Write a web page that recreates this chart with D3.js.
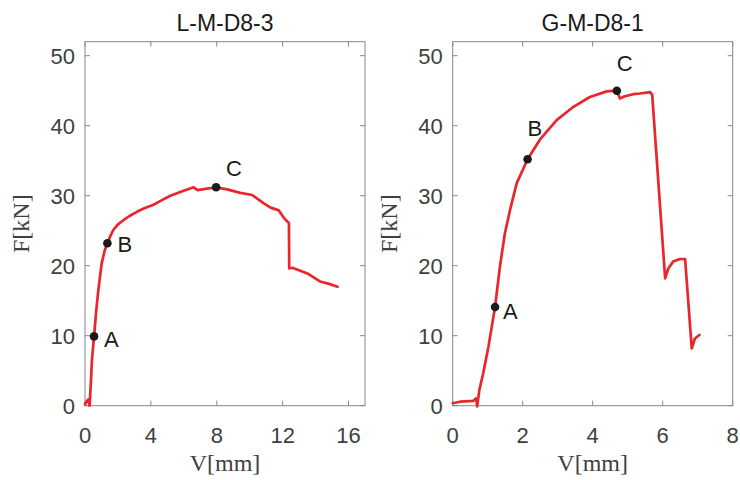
<!DOCTYPE html>
<html>
<head>
<meta charset="utf-8">
<script src="https://cdn.jsdelivr.net/npm/d3@7/dist/d3.min.js"></script>
<style>
  html, body { margin: 0; padding: 0; background: #fff; }
  svg { display: block; }
</style>
</head>
<body>
<svg id="chart" width="740" height="480"></svg>
<script>
// ---- Data ----
const titles = ["L-M-D8-3", "G-M-D8-1"];
const xTicksLeft = [0, 4, 8, 12, 16];
const xTicksRight = [0, 2, 4, 6, 8];
const yTicks = [0, 10, 20, 30, 40, 50];

// Left specimen: V [mm], F [kN]
const leftV = [0, 0.1, 0.2, 0.28, 0.35, 0.42, 0.55, 0.68, 0.81, 1.01, 1.2, 1.36, 1.55, 1.72, 2.0, 2.33, 2.7, 3.15, 3.6, 4.16, 4.7, 5.18, 5.99, 6.6, 6.84, 7.41, 7.96, 8.63, 9.43, 10.15, 10.86, 11.27, 11.77, 12.08, 12.38, 12.4, 12.6, 13.5, 14.31, 14.82, 15.33];
const leftF = [0.2, 0.6, 0.9, 0.0, 3.0, 6.5, 9.9, 13.5, 16.5, 20.3, 22.2, 23.2, 24.3, 25.1, 25.9, 26.5, 27.1, 27.7, 28.2, 28.7, 29.4, 30.0, 30.7, 31.2, 30.8, 31.0, 31.2, 30.9, 30.4, 30.1, 28.9, 28.3, 27.9, 26.8, 26.1, 19.6, 19.7, 18.9, 17.7, 17.4, 17.0];

// Right specimen
const rightV = [0, 0.21, 0.59, 0.67, 0.70, 0.76, 0.87, 1.02, 1.21, 1.35, 1.49, 1.64, 1.83, 2.14, 2.49, 2.97, 3.45, 3.92, 4.4, 4.69, 4.78, 4.92, 5.16, 5.35, 5.64, 5.70, 6.07, 6.16, 6.30, 6.49, 6.64, 6.83, 6.92, 7.05];
const rightF = [0.35, 0.57, 0.7, 1.05, -0.1, 2.2, 4.6, 8.4, 14.1, 19.9, 24.6, 28.0, 31.8, 35.2, 38.0, 40.8, 42.7, 44.1, 44.9, 45.0, 43.9, 44.2, 44.5, 44.6, 44.8, 44.4, 18.2, 19.6, 20.6, 20.96, 20.96, 8.2, 9.6, 10.1];

// Marked points
const leftPts = [{name: "A", v: 0.55, f: 9.9}, {name: "B", v: 1.36, f: 23.2}, {name: "C", v: 7.96, f: 31.2}];
const rightPts = [{name: "A", v: 1.21, f: 14.1}, {name: "B", v: 2.14, f: 35.2}, {name: "C", v: 4.69, f: 45.0}];

// ---- Drawing ----
const svg = d3.select("#chart");
const axisColor = "#888888";
const textColor = "#404040";
const lineColor = "#e8262b";
const sans = "Liberation Sans, Arial, sans-serif";
const serif = "Liberation Serif, Times New Roman, serif";

const panels = [
  {title: titles[0], v: leftV, f: leftF, pts: leftPts, xMax: 17, xTicks: xTicksLeft, x0: 85, x1: 365,
   labelOff: {A: [10, 11], B: [10, 9], C: [10, -11]}},
  {title: titles[1], v: rightV, f: rightF, pts: rightPts, xMax: 8, xTicks: xTicksRight, x0: 452.7, x1: 732.7,
   labelOff: {A: [8, 12], B: [0, -23], C: [0, -20]}}
];

const yTop = 41.7, yBot = 405.7;

panels.forEach(p => {
  const x = d3.scaleLinear().domain([0, p.xMax]).range([p.x0, p.x1]);
  const y = d3.scaleLinear().domain([0, 52]).range([yBot, yTop]);
  const g = svg.append("g");

  const tl = 5;
  p.xTicks.forEach(t => {
    g.append("line").attr("x1", x(t)).attr("x2", x(t)).attr("y1", yBot).attr("y2", yBot - tl)
      .attr("stroke", axisColor).attr("stroke-width", 1);
    g.append("line").attr("x1", x(t)).attr("x2", x(t)).attr("y1", yTop).attr("y2", yTop + tl)
      .attr("stroke", axisColor).attr("stroke-width", 1);
    g.append("text").attr("x", x(t)).attr("y", 443).attr("text-anchor", "middle")
      .attr("font-family", sans).attr("font-size", 22)
      .attr("fill", textColor).text(t);
  });
  yTicks.forEach(t => {
    g.append("line").attr("x1", p.x0).attr("x2", p.x0 + tl).attr("y1", y(t)).attr("y2", y(t))
      .attr("stroke", axisColor).attr("stroke-width", 1);
    g.append("line").attr("x1", p.x1).attr("x2", p.x1 - tl).attr("y1", y(t)).attr("y2", y(t))
      .attr("stroke", axisColor).attr("stroke-width", 1);
    g.append("text").attr("x", p.x0 - 10).attr("y", y(t) + 8).attr("text-anchor", "end")
      .attr("font-family", sans).attr("font-size", 22)
      .attr("fill", textColor).text(t);
  });

  g.append("rect").attr("x", p.x0).attr("y", yTop).attr("width", p.x1 - p.x0).attr("height", yBot - yTop)
    .attr("fill", "none").attr("stroke", axisColor).attr("stroke-width", 1);

  const data = p.v.map((v, i) => [v, p.f[i]]);
  g.append("path").datum(data)
    .attr("d", d3.line().x(d => x(d[0])).y(d => y(d[1])))
    .attr("fill", "none").attr("stroke", lineColor).attr("stroke-width", 2.7)
    .attr("stroke-linejoin", "round").attr("stroke-linecap", "round");

  p.pts.forEach(pt => {
    g.append("circle").attr("cx", x(pt.v)).attr("cy", y(pt.f)).attr("r", 4.3).attr("fill", "#1a1a1a");
    const off = p.labelOff[pt.name];
    g.append("text").attr("x", x(pt.v) + off[0]).attr("y", y(pt.f) + off[1])
      .attr("font-family", sans).attr("font-size", 22)
      .attr("fill", "#1a1a1a").text(pt.name);
  });

  g.append("text").attr("x", (p.x0 + p.x1) / 2).attr("y", 31).attr("text-anchor", "middle")
    .attr("font-family", sans).attr("font-size", 23)
    .attr("fill", "#1a1a1a").text(p.title);

  g.append("text").attr("x", (p.x0 + p.x1) / 2).attr("y", 471).attr("text-anchor", "middle")
    .attr("font-family", serif).attr("font-size", 24)
    .attr("fill", textColor).text("V[mm]");
  g.append("text").attr("transform", `translate(${p.x0 - 56},${(yTop + yBot) / 2}) rotate(-90)`)
    .attr("text-anchor", "middle")
    .attr("font-family", serif).attr("font-size", 24)
    .attr("fill", textColor).text("F[kN]");
});
</script>
</body>
</html>
